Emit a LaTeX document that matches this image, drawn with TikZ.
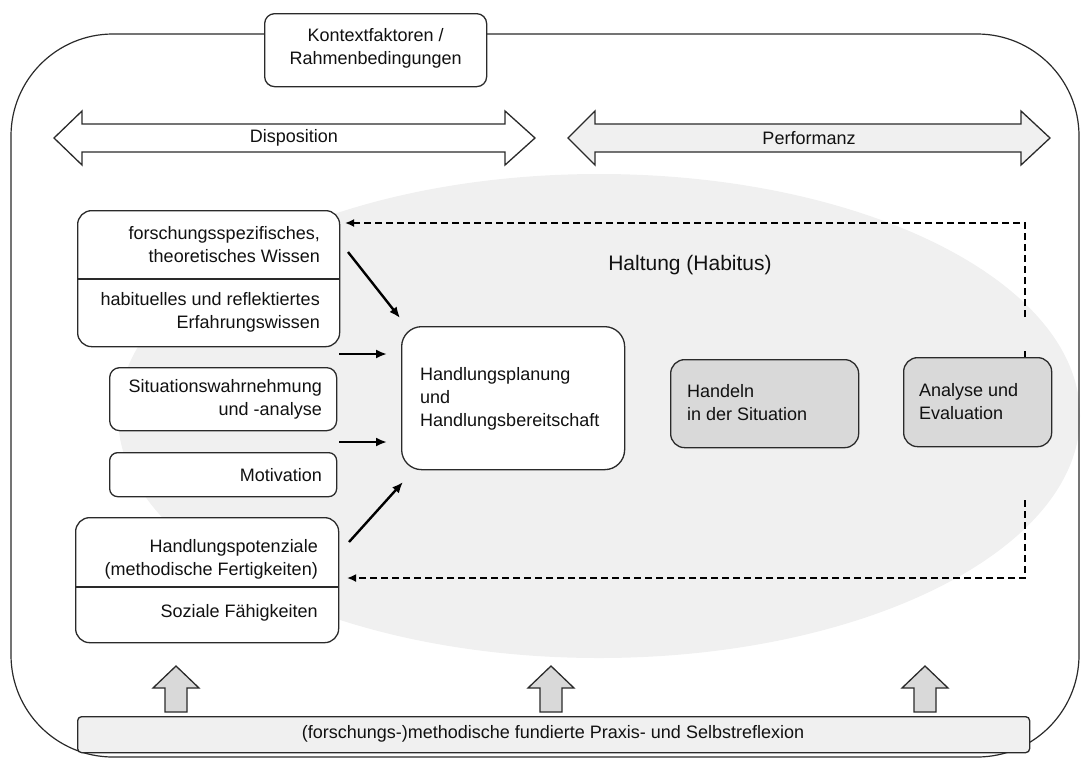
\documentclass[tikz,border=0pt]{standalone}
\usepackage{fontspec}
\setmainfont{Liberation Sans}
\usetikzlibrary{arrows.meta}
\definecolor{lg}{HTML}{F0F0F0}
\definecolor{mg}{HTML}{D9D9D9}
\definecolor{ln}{HTML}{2A2A2A}
\definecolor{tx}{HTML}{111111}
\begin{document}
\begin{tikzpicture}[x=1pt,y=-1pt,
  font=\fontsize{18}{23}\selectfont,
  box/.style={draw=ln, line width=1.3pt, rounded corners=14pt, fill=white, anchor=north west, inner sep=0pt},
  gbox/.style={box, fill=mg},
  lblr/.style={inner sep=0pt, align=right, anchor=east, text=tx},
  lbll/.style={inner sep=0pt, align=left, anchor=west, text=tx},
  lblc/.style={inner sep=0pt, align=center, text=tx},
  sarr/.style={draw=black, line width=2.4pt, -{Latex[length=11pt,width=9pt]}},
  darr/.style={draw=black, line width=1.8pt, dash pattern=on 7pt off 4pt, -{Latex[length=9pt,width=8pt]}},
  blockarrow/.style={draw=ln, line width=1.3pt}]
\useasboundingbox (0,0) rectangle (1083,761);

% background ellipse (Haltung)
\fill[lg] (599,416) ellipse [x radius=481pt, y radius=242pt];

% outer frame
\draw[ln, line width=1.2pt, rounded corners=102pt] (11,34) rectangle (1079,757);

% Kontext box
\node[box, rounded corners=10pt, minimum width=222pt, minimum height=73pt] (ctx) at (264,13) {};
\node[lblc] (ctxt) at ([yshift=2pt]ctx.center) {Kontextfaktoren /\\Rahmenbedingungen};

% double arrows
\draw[blockarrow, fill=white] (54,138) -- (82,111) -- (82,124) -- (505,124) -- (505,111) -- (535,138) -- (505,165) -- (505,152) -- (82,152) -- (82,165) -- cycle;
\node[lblc] (disp) at (294,138) {Disposition};
\draw[blockarrow, fill=lg] (568,138) -- (595,111) -- (595,124) -- (1021,124) -- (1021,111) -- (1050,138) -- (1021,165) -- (1021,152) -- (595,152) -- (595,165) -- cycle;
\node[lblc] (perf) at (809,138) {Performanz};

% Haltung label
\node[lblc, font=\fontsize{21}{25}\selectfont] (halt) at (690,265) {Haltung (Habitus)};

% left boxes
\node[box, minimum width=262pt, minimum height=136pt] (b1) at (77,210) {};
\draw[ln, line width=1.3pt] (77,279) -- (339,279);
\node[lblr] (b1a) at (320,245) {forschungsspezifisches,\\theoretisches Wissen};
\node[lblr] (b1b) at (320,312) {habituelles und reflektiertes\\Erfahrungswissen};

\node[box, rounded corners=10pt, minimum width=227pt, minimum height=63pt] (b2) at (109,367) {};
\node[lblr] (b2t) at (322,399) {Situationswahrnehmung\\und -analyse};

\node[box, rounded corners=8pt, minimum width=227pt, minimum height=44pt] (b3) at (109,452) {};
\node[lblr] (b3t) at (322,475) {Motivation};

\node[box, minimum width=263pt, minimum height=125pt] (b4) at (75,517) {};
\draw[ln, line width=1.3pt] (75,587) -- (338,587);
\node[lblr] (b4a) at (318,559) {Handlungspotenziale\\(methodische Fertigkeiten)};
\node[lblr] (b4b) at (318,613) {Soziale Fähigkeiten};

% central box
\node[box, rounded corners=20pt, minimum width=223pt, minimum height=143pt] (cen) at (401,326) {};
\node[lbll] (cent) at (420,399) {Handlungsplanung\\und\\Handlungsbereitschaft};

% grey boxes
\node[gbox, minimum width=188pt, minimum height=88pt] (hand) at (670,359) {};
\node[lbll] (handt) at (687,403) {Handeln\\in der Situation};
\node[gbox, minimum width=148pt, minimum height=89pt] (ana) at (903,357) {};
\node[lbll] (anat) at (919,402) {Analyse und\\Evaluation};

% solid arrows
\coordinate (s1a) at (348,252); \coordinate (s1b) at (400,318);
\coordinate (s2a) at (339,354); \coordinate (s2b) at (387,354);
\coordinate (s3a) at (339,442); \coordinate (s3b) at (387,442);
\coordinate (s4a) at (349,542); \coordinate (s4b) at (403,482);
\draw[sarr] (s1a) -- (s1b);
\draw[sarr] (s2a) -- (s2b);
\draw[sarr] (s3a) -- (s3b);
\draw[sarr] (s4a) -- (s4b);

% dashed feedback
\coordinate (dT) at (1025,317);
\coordinate (dTc) at (1025,223);
\coordinate (dTe) at (345,223);
\coordinate (dB) at (1025,500);
\coordinate (dBc) at (1025,578);
\coordinate (dBe) at (347,578);
\coordinate (tk1) at (1025,351);
\coordinate (tk2) at (1025,357);
\draw[darr] (dT) -- (dTc) -- (dTe);
\draw[darr] (dB) -- (dBc) -- (dBe);
\draw[black, line width=1.8pt] (tk1) -- (tk2);

% bottom bar
\node[box, fill=lg, rounded corners=4pt, minimum width=952pt, minimum height=36pt] (bar) at (77,716) {};
\node[lblc] (bart) at (553,734) {(forschungs-)methodische fundierte Praxis- und Selbstreflexion};

% up block arrows
\foreach \cx in {176,551,925}{
  \draw[blockarrow, fill=mg] (\cx-11,712) -- (\cx-11,688) -- (\cx-23,688) -- (\cx,666) -- (\cx+23,688) -- (\cx+11,688) -- (\cx+11,712) -- cycle;
}
\end{tikzpicture}
\end{document}
